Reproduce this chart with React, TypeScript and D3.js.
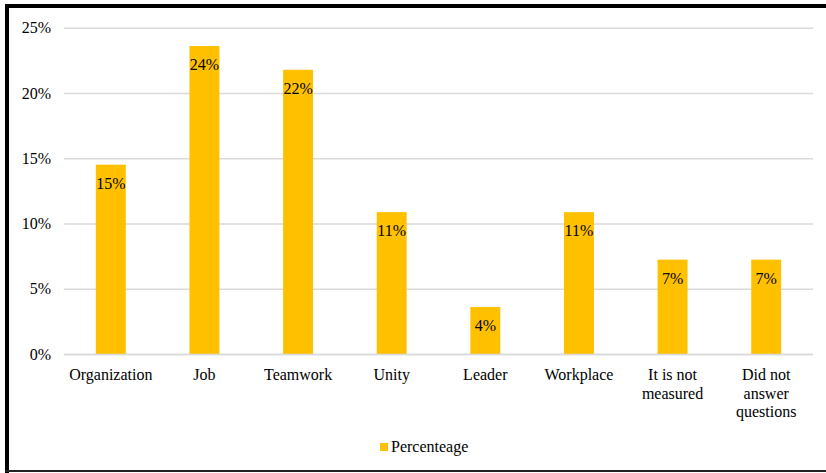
import React from "react";
import * as d3 from "d3";

const categories: string[][] = [
  ["Organization"],
  ["Job"],
  ["Teamwork"],
  ["Unity"],
  ["Leader"],
  ["Workplace"],
  ["It is not", "measured"],
  ["Did not", "answer", "questions"],
];
const values: number[] = [0.1455, 0.2364, 0.2182, 0.1091, 0.0364, 0.1091, 0.0727, 0.0727];
const yTicks: number[] = [0, 0.05, 0.1, 0.15, 0.2, 0.25];
const seriesName = "Percenteage";

const W = 826;
const H = 473;
const FONT = "Liberation Serif, Times New Roman, Times, serif";
const COLOR = "#FFC000";

export default function App() {
  const left = 64, right = 813, top = 28.3, bottom = 354.5;
  const x = d3
    .scaleBand<number>()
    .domain(d3.range(values.length))
    .range([left, right])
    .paddingInner(0.68)
    .paddingOuter(0.34);
  const y = d3.scaleLinear().domain([0, 0.25]).range([bottom, top]);
  const fmt = d3.format(".0%");

  return (
    <svg
      width={W}
      height={H}
      style={{ position: "absolute", left: 0, top: 0, background: "#fff", fontFamily: FONT }}
    >
      <rect x={0} y={0} width={W} height={H} fill="#fff" />
      {/* frame */}
      <rect x={5} y={4} width={W - 5} height={4} fill="#000" />
      <rect x={5} y={4} width={4} height={H - 4} fill="#000" />
      <rect x={5} y={470} width={W - 5} height={2} fill="#222" />

      {yTicks.map((t) => (
        <g key={t}>
          <line x1={left} x2={right} y1={y(t)} y2={y(t)} stroke="#d9d9d9" strokeWidth={1.5} />
          <text x={51} y={y(t) + 5} textAnchor="end" fontSize={16} fill="#000" style={{ fontFamily: FONT }}>
            {fmt(t)}
          </text>
        </g>
      ))}

      {values.map((v, i) => (
        <g key={i}>
          <rect x={x(i)} y={y(v)} width={x.bandwidth()} height={bottom - y(v)} fill={COLOR} />
          <text
            x={(x(i) as number) + x.bandwidth() / 2}
            y={y(v) + 24}
            textAnchor="middle"
            fontSize={16}
            fill="#000"
            style={{ fontFamily: FONT }}
          >
            {fmt(v)}
          </text>
          {categories[i].map((ln, j) => (
            <text
              key={j}
              x={(x(i) as number) + x.bandwidth() / 2}
              y={380 + j * 18.5}
              textAnchor="middle"
              fontSize={16}
              fill="#000"
              style={{ fontFamily: FONT }}
            >
              {ln}
            </text>
          ))}
        </g>
      ))}
      <line x1={left} x2={right} y1={bottom} y2={bottom} stroke="#d9d9d9" strokeWidth={1.5} />

      {/* legend */}
      <rect x={380} y={443} width={8} height={8} fill={COLOR} />
      <text x={391} y={452} fontSize={16} fill="#000" style={{ fontFamily: FONT }}>
        {seriesName}
      </text>
    </svg>
  );
}
